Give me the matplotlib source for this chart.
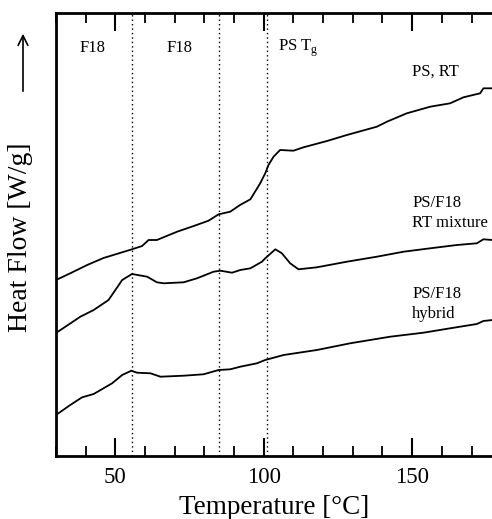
import matplotlib
matplotlib.use("Agg")
import matplotlib.pyplot as plt
from matplotlib.ticker import MultipleLocator

plt.rcParams['font.family'] = ['Liberation Serif', 'DejaVu Serif']

# Temperature (°C) and heat flow (arbitrary offset units)
ps_rt_T = [30, 34.8, 40.5, 46, 55.6, 59, 61.2, 64, 70.8, 76.4, 81.4, 84.8, 88.7, 92,
           95.5, 98.8, 100.5, 101.6, 103.3, 105.5, 110, 113.4, 121.3, 128, 138.1,
           141.5, 148.2, 156.1, 162.8, 167.3, 172.9, 174, 177]
ps_rt_H = [176, 182.7, 191, 198, 206.7, 210, 216, 216, 224.3, 230, 235.3, 241.7, 244.3,
           251, 256.7, 272.7, 282.7, 291, 299.3, 306, 305.3, 308.7, 315, 321, 329.3,
           334.3, 342.7, 349.3, 352.7, 358.7, 362.7, 367.7, 367.7]

mix_T = [30, 38.2, 42.7, 47.7, 52.3, 55.6, 60.7, 64, 66.3, 73, 77.5, 83.1, 85.4, 89.3,
         92.1, 95.5, 99.4, 100.5, 103.9, 106.1, 108.9, 111.7, 117.9, 128, 138.1, 147.1,
         156.1, 165.1, 171.8, 174, 177]
mix_H = [123, 139.3, 146, 156, 176, 182, 179.3, 173.7, 172.7, 173.7, 177.7, 184.3,
         185.3, 183.3, 186, 187.7, 194.3, 197.7, 206.7, 202.7, 192.7, 186.7, 188.7,
         194.3, 199.3, 204.3, 207.7, 211, 212.7, 216.7, 216]

hyb_T = [30, 34.8, 38.8, 42.7, 48.9, 52.3, 55.4, 57.3, 61.8, 65.2, 73, 79.7, 84.8,
         88.7, 92.1, 97.7, 100.5, 106.7, 117.9, 129.1, 142.6, 153.8, 162.8, 171.8,
         174, 177]
hyb_H = [41, 51, 58.7, 62, 72.7, 81, 85.3, 83.3, 82.7, 79.3, 80.3, 81.7, 86, 86.7,
         89.3, 92.7, 96, 101, 106, 112.7, 119.3, 123.3, 127.7, 132, 135, 136]

marker_T = [55.5, 84.8, 101.0]
region_labels = ["F18", "F18", "PS T$_\\mathregular{g}$"]
region_T = [42.3, 71.5, 104.8]
curve_labels = ["PS, RT", "PS/F18\nRT mixture", "PS/F18\nhybrid"]

fig = plt.figure(figsize=(4.92, 5.19), dpi=100)
ax = fig.add_axes([56/492, 63/519, 1 - 56/492, 443/519])

for T, H in [(ps_rt_T, ps_rt_H), (mix_T, mix_H), (hyb_T, hyb_H)]:
    ax.plot(T, H, color='black', lw=1.3, solid_joinstyle='round')

for t in marker_T:
    ax.axvline(t, color='black', lw=1.0, linestyle=(0, (1, 2.2)))

ax.set_xlim(30, 176.9)
ax.set_ylim(0, 443)

ax.xaxis.set_major_locator(MultipleLocator(50))
ax.xaxis.set_minor_locator(MultipleLocator(10))
ax.tick_params(axis='x', which='major', direction='in', length=13, width=1.5,
               top=True, bottom=True, labelsize=16.5, pad=8)
ax.tick_params(axis='x', which='minor', direction='in', length=7, width=1.3,
               top=True, bottom=True)
ax.set_yticks([])
for s in ['left', 'bottom', 'top']:
    ax.spines[s].set_linewidth(2.0)
ax.spines['right'].set_visible(False)

ax.set_xlabel("Temperature [°C]", fontsize=19.5, labelpad=5)

fig.text(21/492, 1 - 237/519, "Heat Flow [W/g]", rotation=90, fontsize=20,
         ha='center', va='center')
fig.patches.append(matplotlib.patches.FancyArrowPatch(
    (23/492, 1 - 94/519), (23/492, 1 - 31/519), transform=fig.transFigure,
    arrowstyle='->,head_length=7,head_width=3.5', lw=1.2, color='black',
    mutation_scale=1))

for lbl, t in zip(region_labels, region_T):
    ha = 'left' if t > 100 else 'center'
    ax.text(t, 456 - 48, lbl, fontsize=12, ha=ha, va='center')

ax.text(150, 456 - 72, curve_labels[0], fontsize=12, ha='left', va='center')
ax.text(150, 456 - 213, curve_labels[1], fontsize=12, ha='left', va='center',
        linespacing=1.4)
ax.text(150, 456 - 304, curve_labels[2], fontsize=12, ha='left', va='center',
        linespacing=1.4)

fig.savefig("out.png", dpi=100)
